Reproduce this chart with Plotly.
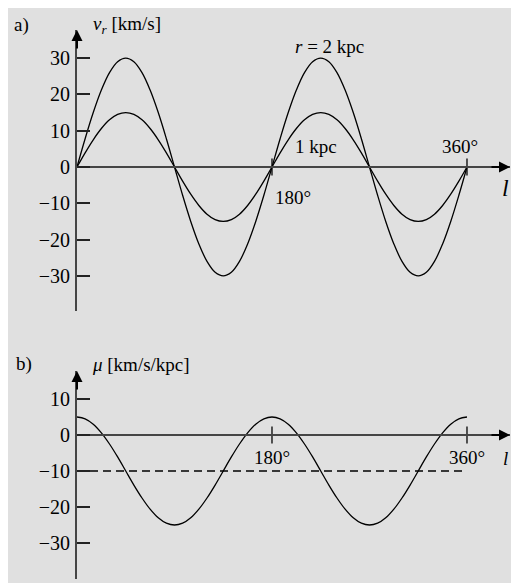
import plotly.graph_objects as go

# longitude samples (deg), every 7.5 deg
l_deg = [0, 7.5, 15, 22.5, 30, 37.5, 45, 52.5, 60, 67.5, 75, 82.5,
         90, 97.5, 105, 112.5, 120, 127.5, 135, 142.5, 150, 157.5, 165, 172.5,
         180, 187.5, 195, 202.5, 210, 217.5, 225, 232.5, 240, 247.5, 255, 262.5,
         270, 277.5, 285, 292.5, 300, 307.5, 315, 322.5, 330, 337.5, 345, 352.5,
         360]

# panel a: radial velocity [km/s]
vr_2kpc = [0, 7.8, 15, 21.2, 26, 29, 30, 29, 26, 21.2, 15, 7.8,
           0, -7.8, -15, -21.2, -26, -29, -30, -29, -26, -21.2, -15, -7.8,
           0, 7.8, 15, 21.2, 26, 29, 30, 29, 26, 21.2, 15, 7.8,
           0, -7.8, -15, -21.2, -26, -29, -30, -29, -26, -21.2, -15, -7.8,
           0]
vr_1kpc = [0, 3.9, 7.5, 10.6, 13, 14.5, 15, 14.5, 13, 10.6, 7.5, 3.9,
           0, -3.9, -7.5, -10.6, -13, -14.5, -15, -14.5, -13, -10.6, -7.5, -3.9,
           0, 3.9, 7.5, 10.6, 13, 14.5, 15, 14.5, 13, 10.6, 7.5, 3.9,
           0, -3.9, -7.5, -10.6, -13, -14.5, -15, -14.5, -13, -10.6, -7.5, -3.9,
           0]

# panel b: proper motion [km/s/kpc]
mu = [5, 4.5, 3, 0.6, -2.5, -6.1, -10, -13.9, -17.5, -20.6, -23, -24.5,
      -25, -24.5, -23, -20.6, -17.5, -13.9, -10, -6.1, -2.5, 0.6, 3, 4.5,
      5, 4.5, 3, 0.6, -2.5, -6.1, -10, -13.9, -17.5, -20.6, -23, -24.5,
      -25, -24.5, -23, -20.6, -17.5, -13.9, -10, -6.1, -2.5, 0.6, 3, 4.5,
      5]
mu_mean = [-10, -10]
mu_mean_l = [0, 360]

ticks_a = [30, 20, 10, 0, -10, -20, -30]
ticks_b = [10, 0, -10, -20, -30]
xticks = [180, 360]

# the page adds an 8px body margin, so the figure is 8px smaller
OFF = 8
W, H = 519 - OFF, 583 - OFF
FONT = "Liberation Serif"
AX = "#454545"


def lab(v):
    return str(v).replace("-", "\u2212")


def px(x):
    return (x - OFF) / W


def py(y):
    return 1 - (y - OFF) / H


fig = go.Figure()

line = dict(color="black", width=1.3)
fig.add_trace(go.Scatter(x=l_deg, y=vr_2kpc, mode="lines", line=line,
                         line_shape="spline", xaxis="x", yaxis="y"))
fig.add_trace(go.Scatter(x=l_deg, y=vr_1kpc, mode="lines", line=line,
                         line_shape="spline", xaxis="x", yaxis="y"))
fig.add_trace(go.Scatter(x=l_deg, y=mu, mode="lines", line=line,
                         line_shape="spline", xaxis="x2", yaxis="y2"))
fig.add_trace(go.Scatter(x=mu_mean_l, y=mu_mean, mode="lines",
                         line=dict(color="black", width=1.3, dash="8px,5px"),
                         xaxis="x2", yaxis="y2"))

# tick marks on the l axes
tick_marker = dict(symbol="line-ns", size=12, line=dict(color="black", width=1.3))
fig.add_trace(go.Scatter(x=xticks, y=[0, 0], mode="markers", marker=tick_marker,
                         xaxis="x", yaxis="y"))
fig.add_trace(go.Scatter(x=xticks, y=[0, 0], mode="markers", marker=tick_marker,
                         xaxis="x2", yaxis="y2"))

xdom = [px(77), px(510)]
xrange = [0, (510 - 77) / 1.0833]

common_x = dict(domain=xdom, range=xrange, showgrid=False, zeroline=False,
                showticklabels=False, ticks="", showline=True,
                linecolor=AX, linewidth=2, anchor="free")
common_y = dict(showgrid=False, zeroline=False, showline=True, linecolor=AX,
                linewidth=2, ticks="inside", ticklen=13, tickwidth=1.5,
                tickcolor="#222", ticklabelstandoff=1,
                tickfont=dict(family=FONT, size=20, color="black"))

fig.update_layout(
    width=W, height=H,
    margin=dict(l=0, r=0, t=0, b=0),
    paper_bgcolor="white",
    plot_bgcolor="rgba(0,0,0,0)",
    showlegend=False,
    xaxis=dict(common_x, position=py(167)),
    yaxis=dict(common_y, anchor="x", domain=[py(311), py(30)],
               range=[-(311 - 167) / 3.63, (167 - 30) / 3.63],
               tickvals=ticks_a, ticktext=[lab(v) for v in ticks_a]),
    xaxis2=dict(common_x, position=py(435)),
    yaxis2=dict(common_y, anchor="x2", domain=[py(579), py(371)],
                range=[-(579 - 435) / 3.6, (435 - 371) / 3.6],
                tickvals=ticks_b, ticktext=[lab(v) for v in ticks_b]),
)

# grey panel background
fig.add_shape(type="rect", xref="paper", yref="paper", x0=0, x1=1,
              y0=0, y1=1, fillcolor="#e0e0e0", line_width=0, layer="below")

# axis arrow heads
arrows = [((px(510), py(167)), (-20, 0)), ((px(77), py(30)), (0, 20)),
          ((px(510), py(435)), (-20, 0)), ((px(77), py(371)), (0, 20))]
for (x, y), (ax, ay) in arrows:
    fig.add_annotation(x=x, y=y, xref="paper", yref="paper", ax=ax, ay=ay,
                       text="", showarrow=True, arrowhead=2, arrowsize=1.1,
                       arrowwidth=2, arrowcolor="black")


def txt(s, x, y, size=19, xanchor="center"):
    fig.add_annotation(x=px(x), y=py(y), xref="paper", yref="paper", text=s,
                       showarrow=False, xanchor=xanchor, yanchor="middle",
                       font=dict(family=FONT, size=size, color="black"))


txt("a)", 12, 25, xanchor="left")
txt("<i>v</i><sub><i>r</i></sub> [km/s]", 91, 25, xanchor="left")
txt("<i>r</i> = 2 kpc", 329, 47)
txt("1 kpc", 316, 147)
txt("360°", 460, 146)
txt("180°", 273, 197, xanchor="left")
txt("<i>l</i>", 505, 188, size=24)

txt("b)", 14, 364, xanchor="left")
txt("<i>μ</i> [km/s/kpc]", 90, 364, xanchor="left")
txt("180°", 272, 457)
txt("360°", 467, 457)
txt("<i>l</i>", 505, 458)

fig.write_html("out.html")
